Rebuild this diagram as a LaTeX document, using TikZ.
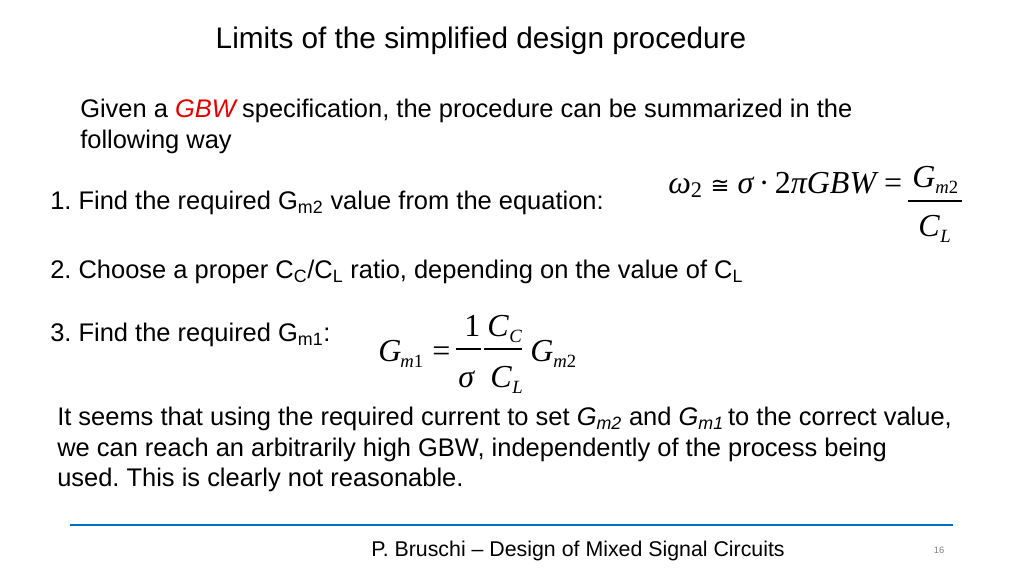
\documentclass[tikz,border=0pt]{standalone}
\usepackage{fontspec}
\setmainfont{Liberation Sans}
\newfontfamily\ser{Liberation Serif}
\newfontfamily\dsans{DejaVu Sans}
\definecolor{gbwred}{RGB}{230,0,0}
\definecolor{lineblue}{RGB}{0,112,192}
\begin{document}
\frenchspacing
\begin{tikzpicture}[x=0.75pt,y=-0.75pt,
  txt/.style={anchor=base west,inner sep=0,font=\fontsize{19.1}{22}\selectfont},
  eq/.style={anchor=base west,inner sep=0,font=\ser\itshape\fontsize{24}{26}\selectfont},
  sb/.style={font=\ser\itshape\fontsize{14}{15}\selectfont,anchor=base west,inner sep=0}]
\useasboundingbox (0,0) rectangle (1024,576);
\node[anchor=base,inner sep=0,font=\fontsize{22.3}{25}\selectfont] (title) at (481,48) {Limits of the simplified design procedure};
\node[txt] (g1) at (80,117) {Given a \textcolor{gbwred}{\textit{GBW}}\,specification, the procedure can be summarized in the};
\node[txt] (g2) at (80,148) {following way};
\node[txt] (s1) at (50,209) {1. Find the required G\textsubscript{m2} value from the equation:};
\node[txt] (s2) at (50,278) {2. Choose a proper C\textsubscript{C}/C\textsubscript{L} ratio, depending on the value of C\textsubscript{L}};
\node[txt] (s3) at (50,341) {3. Find the required G\textsubscript{m1}:};
% equation 1
\node[eq] (w) at (668,193) {ω\textsubscript{\upshape 2} {\dsans\upshape\fontsize{17}{20}\selectfont ≅} σ\,{\upshape·}\,{\upshape 2}πGBW {\upshape =}};
\node[eq] (gn) at (912,187) {G};
\node[sb] at (935,193) {m{\upshape 2}};
\draw[line width=0.8pt] (908,201) -- (962,201);
\node[eq] (cl) at (918,236) {C};
\node[sb] at (940,242) {L};
% equation 3
\node[eq] (gm1) at (378,361) {G};
\node[sb] at (400,367) {m{\upshape 1}};
\node[eq] at (432,361) {\upshape =};
\node[eq] at (464,336) {\upshape 1};
\draw[line width=0.8pt] (456,349) -- (481,349);
\node[eq] at (458,387) {σ};
\node[eq] at (487,336) {C};
\node[sb] at (509,342) {C};
\draw[line width=0.8pt] (484,349) -- (522,349);
\node[eq] at (490,387) {C};
\node[sb] at (512,393) {L};
\node[eq] at (530,361) {G};
\node[sb] at (553,367) {m{\upshape 2}};
% paragraph
\node[txt] (p1) at (57,425) {It seems that using the required current to set \textit{G\textsubscript{m2}} and \textit{G\textsubscript{m1}}\,to the correct value,};
\node[txt] (p2) at (57,456) {we can reach an arbitrarily high GBW, independently of the process being};
\node[txt] (p3) at (57,486) {used. This is clearly not reasonable.};
% footer
\draw[lineblue,line width=2pt] (70,525) -- (953,525);
\node[anchor=base,inner sep=0,font=\fontsize{16}{18}\selectfont] (foot) at (578,556) {P. Bruschi -- Design of Mixed Signal Circuits};
\node[anchor=base,inner sep=0,text=gray,font=\fontsize{7}{8}\selectfont] (pg) at (939,553) {16};
\end{tikzpicture}
\end{document}
